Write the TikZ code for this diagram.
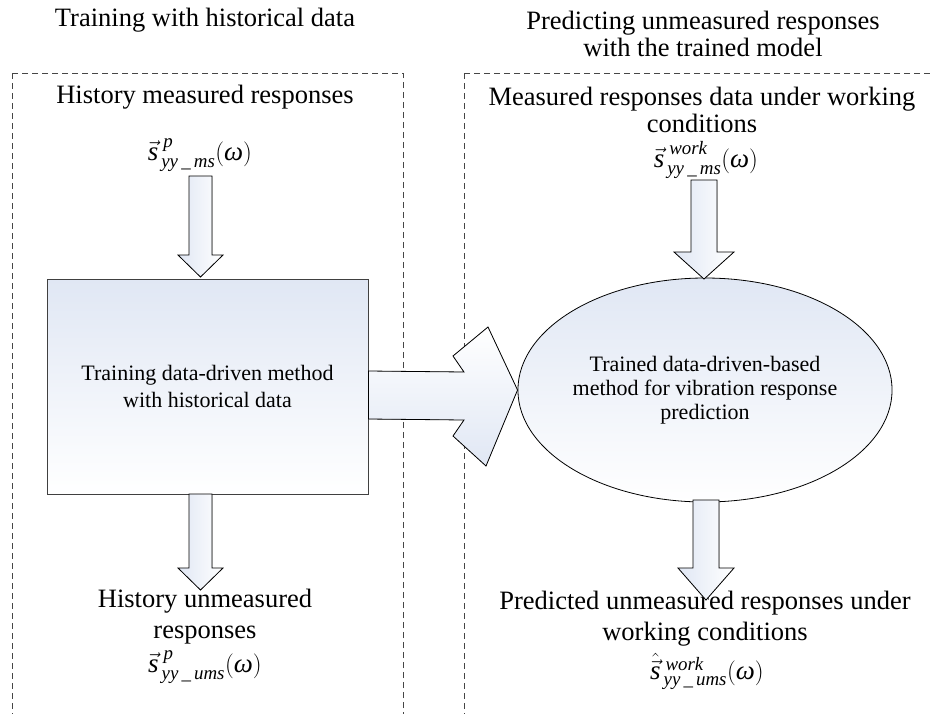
\documentclass[tikz,border=0pt]{standalone}
\usepackage{amsmath}
\usepackage{fontspec}
\setmainfont{Liberation Serif}
\usetikzlibrary{shapes.geometric}
\definecolor{fillblue}{RGB}{224,231,244}
\definecolor{dashgray}{RGB}{70,70,70}
\newcommand\vblockarrow[6]{% cx, ytop, ytip, body half width, head half width, head length
  \filldraw[blockarrow] (#1-#4,#2) -- (#1+#4,#2) -- (#1+#4,#3-#6) -- (#1+#5,#3-#6) -- (#1,#3)
    -- (#1-#5,#3-#6) -- (#1-#4,#3-#6) -- cycle;}
\newcommand\svec{\vec{\textit{s}}}
\newcommand\shat{\hat{\vec{\textit{s}}}}
\newcommand\respfn[3]{$#1^{\;\textit{#2}}_{\,\textit{#3}}(\textit{ω})$}
\tikzset{
  region/.style={draw=dashgray, line width=0.8pt, dash pattern=on 6pt off 4pt},
  bigtext/.style={font=\fontsize{26.5}{27}\selectfont, align=center, inner sep=0pt},
  lowtext/.style={font=\fontsize{26.5}{31}\selectfont, align=center, inner sep=0pt},
  formula/.style={font=\fontsize{27}{27}\selectfont, inner sep=0pt},
  blockarrow/.style={draw=black, line width=0.8pt, left color=fillblue, right color=white, line join=miter},
  methodbox/.style={draw=black!75, line width=0.9pt, top color=fillblue, bottom color=white,
    minimum width=321pt, minimum height=215pt, inner sep=0pt, align=center,
    font=\fontsize{22}{27}\selectfont},
  methodellipse/.style={ellipse, draw=black, line width=0.8pt, top color=fillblue, bottom color=white,
    minimum width=330pt, minimum height=224pt, inner sep=0pt, align=center,
    font=\fontsize{22}{24}\selectfont}
}
\begin{document}
\begin{tikzpicture}[x=1pt,y=-1pt]
\useasboundingbox (0,0) rectangle (930,713);
\begin{scope}
  \clip (0,0) rectangle (930,713);
  \draw[region] (12,73) rectangle (403,730);
  \draw[region] (464,73) rectangle (940,730);
\end{scope}

% headings
\node[bigtext] (t1) at (205,20) {Training with historical data};
\node[bigtext] (t2) at (703,34) {Predicting unmeasured responses\\with the trained model};

% left column
\node[bigtext] (hm) at (205,97) {History measured responses};
\node[formula] (f1) at (200,155) {\respfn{\svec}{p}{yy\,\_\,ms}};
\node[methodbox] (box) at (207.5,386.5) {Training data-driven method\\with historical data};
\node[lowtext] (hu) at (205,617) {History unmeasured\\responses};
\node[formula] (f2) at (205,667) {\respfn{\svec}{p}{yy\,\_\,ums}};

% right column
\node[bigtext] (mr) at (702,110) {Measured responses data under working\\conditions};
\node[formula] (f3) at (706,160) {\respfn{\svec}{work}{yy\,\_\,ms}};
\node[methodellipse] (ell) at (705,390) {Trained data-driven-based\\method for vibration response\\prediction};
\node[lowtext] (pu) at (705,619) {Predicted unmeasured responses under\\working conditions};
\node[formula] (f4) at (707,671) {\respfn{\shat}{work}{yy\,\_\,ums}};

% vertical block arrows
\vblockarrow{200.5}{176}{277}{11.5}{22.5}{22}
\vblockarrow{200.5}{494}{590}{11.5}{22.5}{22}
\vblockarrow{704}{180}{279}{13}{30}{27}
\vblockarrow{706}{500}{600}{13}{28}{32}

% horizontal fancy block arrow from box to ellipse
\filldraw[draw=black, line width=0.8pt, top color=white, bottom color=fillblue, line join=miter]
  (box.east |- 0,371) -- (464,372) -- (453,356) -- (488,327) -- (ell.west) -- (486,466)
  -- (453,436) -- (464,420) -- (box.east |- 0,419) -- cycle;
\end{tikzpicture}
\end{document}
